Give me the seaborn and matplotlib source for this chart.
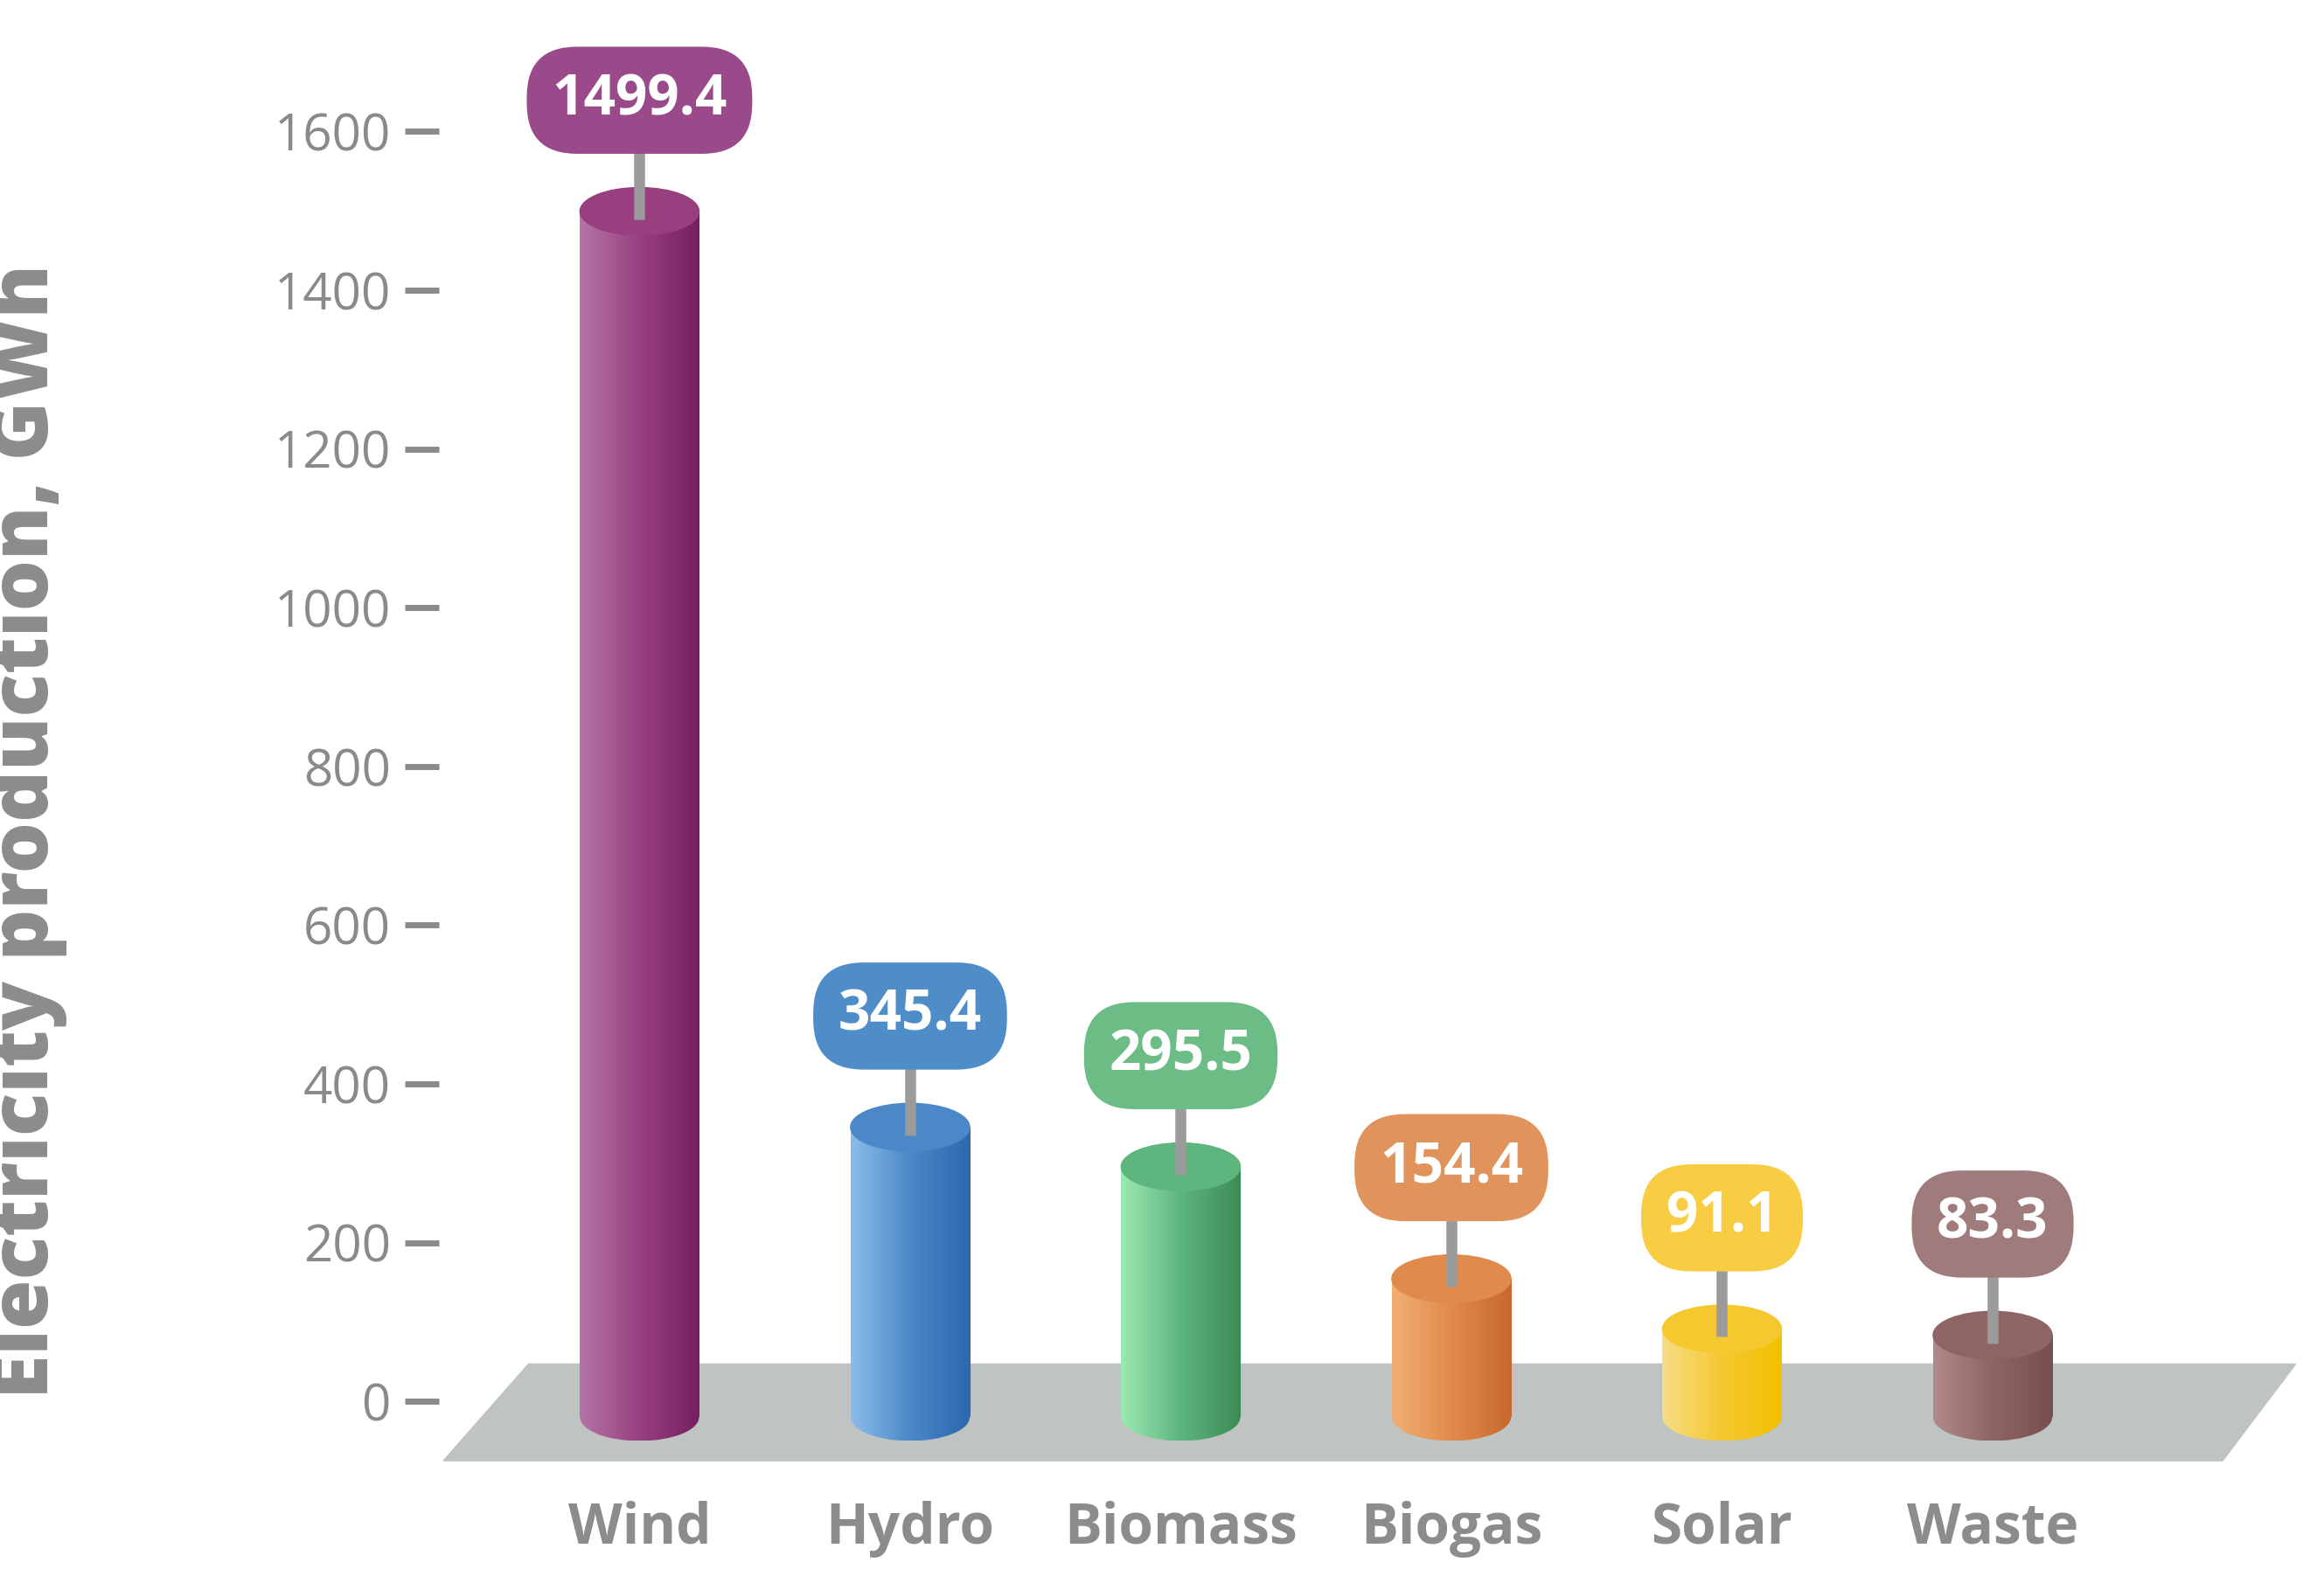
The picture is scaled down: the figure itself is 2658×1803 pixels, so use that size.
import numpy as np
import matplotlib.pyplot as plt
import seaborn as sns
from matplotlib.patches import Ellipse, Polygon, Rectangle
from matplotlib.colors import LinearSegmentedColormap

sources = ["Wind", "Hydro", "Biomass", "Biogas", "Solar", "Waste"]
production = [1499.4, 345.4, 295.5, 154.4, 91.1, 83.3]
y_ticks = [0, 200, 400, 600, 800, 1000, 1200, 1400, 1600]

light = ["#b575a8", "#8cbdea", "#9be9b3", "#f0b072", "#f6dd85", "#b08a8a"]
mid = ["#98407f", "#4a88c8", "#5fb57e", "#e08b4c", "#f5c830", "#8e6464"]
dark = ["#761f60", "#2b68ad", "#3c8b55", "#c8682d", "#f2c000", "#784e4e"]
tag = ["#9a4a8a", "#4f8dc9", "#6cbc86", "#e0935a", "#f8cd44", "#a07b7b"]

sns.set_style("white")
plt.rcParams["font.family"] = ["Open Sans", "DejaVu Sans"]

fig = plt.figure(figsize=(26.58, 18.03), dpi=100)
ax = fig.add_axes([0.189, 0.057, 0.80, 0.924])

width = 0.44
ell_h = 60
base = -20

sns.barplot(x=sources, y=production, palette=mid, width=width,
            ax=ax, zorder=2, hue=sources, legend=False)
for p in list(ax.patches):
    p.set_visible(False)

# floor
ax.add_patch(Polygon([(-0.725, -75), (5.85, -75), (6.12, 47), (-0.41, 47)],
                     closed=True, color="#bfc3c2", zorder=1))

grad = np.linspace(0, 1, 256).reshape(1, -1)
for i, v in enumerate(production):
    x0 = i - width / 2
    cmap = LinearSegmentedColormap.from_list("c", [light[i], mid[i], dark[i]])
    im = ax.imshow(grad, cmap=cmap, aspect="auto", zorder=3,
                   extent=[x0, x0 + width, base, v], origin="lower")
    im.set_clip_path(Rectangle((x0, base), width, v - base,
                               transform=ax.transData))
    bottom = ax.imshow(grad, cmap=cmap, aspect="auto", zorder=3,
                       extent=[x0, x0 + width, base - ell_h / 2, base + 1])
    bottom.set_clip_path(Ellipse((i, base), width, ell_h,
                                 transform=ax.transData))
    ax.add_patch(Ellipse((i, v), width, ell_h, color=mid[i], zorder=4))
    top = v + 140
    ax.plot([i, i], [v - 10, top], color="#9b9b9b", lw=9, zorder=5,
            solid_capstyle="butt")
    ax.text(i, top, f"{v:.1f}", ha="center", va="center", color="white",
            fontsize=46, fontweight="bold", zorder=6,
            bbox=dict(boxstyle="round,pad=0.45,rounding_size=0.9",
                      fc=tag[i], ec="none"))

ax.set_xlim(-0.74, 6.13)
ax.set_ylim(-107, 1728)
ax.set_yticks(y_ticks)
ax.set_yticklabels([str(t) for t in y_ticks])
ax.tick_params(axis="y", left=True, direction="out", length=28, width=5,
               pad=12, colors="#8a8a8a", labelsize=42)
ax.tick_params(axis="x", length=0, pad=12, labelsize=46, colors="#8c8c8c")
for lab in ax.get_xticklabels():
    lab.set_fontweight("bold")
for s in ax.spines.values():
    s.set_visible(False)
ax.set_ylabel("Electricity production, GWh", fontsize=66, fontweight="heavy",
              color="#8c8c8c")
ax.yaxis.set_label_coords(-0.2, 0.45)

fig.savefig("out.png", dpi=100)
